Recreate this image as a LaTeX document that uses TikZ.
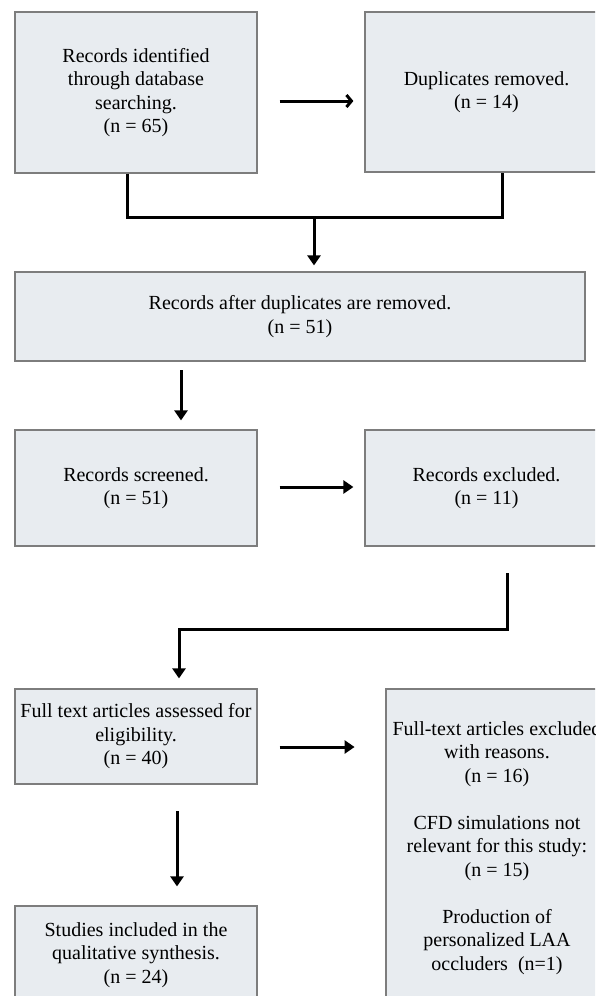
\documentclass[tikz,border=0pt]{standalone}
\usepackage{fontspec}
\setmainfont{Liberation Serif}
\usetikzlibrary{arrows.meta,calc}
\definecolor{boxfill}{RGB}{232,236,240}
\definecolor{boxline}{RGB}{125,125,125}
\begin{document}
\begin{tikzpicture}[x=1pt,y=-1pt,
  box/.style={draw=boxline,line width=1.2pt,fill=boxfill,align=center,inner sep=0pt,
    font=\fontsize{20}{23.5}\selectfont},
  low/.style={execute at begin node={\rule{0pt}{22pt}}},
  conn/.style={line width=3pt},
  arr/.style={conn,-{Triangle[length=10pt,width=13pt]}},
  barb/.style={conn,-{Straight Barb[length=5pt,width=12pt]}}]
\useasboundingbox (0,0) rectangle (595,996);
\clip (0,0) rectangle (595,996);

\node[box,low,minimum width=242pt,minimum height=161pt] (b1) at (136,92.5)
  {Records identified\\through database\\searching.\\(n = 65)};
\node[box,low,minimum width=243pt,minimum height=160pt] (b2) at (486.5,92)
  {Duplicates removed.\\(n = 14)};
\node[box,low,minimum width=570pt,minimum height=89pt] (b3) at (300,316.5)
  {Records after duplicates are removed.\\(n = 51)};
\node[box,low,minimum width=242pt,minimum height=116pt] (b4) at (136,488)
  {Records screened.\\(n = 51)};
\node[box,low,minimum width=243pt,minimum height=116pt] (b5) at (486.5,488)
  {Records excluded.\\(n = 11)};
\node[box,low,minimum width=242pt,minimum height=95pt] (b6) at (136,736.5)
  {Full text articles assessed for\\eligibility.\\(n = 40)};
\node[box,minimum width=222pt,minimum height=318pt] (b7) at (497,848)
  {Full-text articles excluded\\with reasons.\\(n = 16)\\[23.5pt]CFD simulations not\\relevant for this study:\\(n = 15)\\[23.5pt]Production of\\personalized LAA\\occluders~ (n=1)};
\node[box,minimum width=242pt,minimum height=98pt] (b8) at (136,955)
  {Studies included in the\\qualitative synthesis.\\(n = 24)};

% b1 -> b2
\draw[barb] ($(b1.east)+(22,8.5)$) -- ($(b2.west)+(-11,9)$);
% join of b1 and b2 into b3
\coordinate (j) at (314,217);
\draw[conn] ([xshift=-9pt]b1.south) |- (j) -| ([xshift=15.5pt]b2.south);
\draw[arr,shorten >=6pt] (j) -- (j |- b3.north);
% b3 -> b4
\coordinate (a3) at (181,370);
\draw[arr,shorten >=9pt] (a3) -- (a3 |- b4.north);
% b4 -> b5
\draw[arr] ($(b4.east)+(22,-1)$) -- ($(b5.west)+(-11,-1)$);
% b5 -> b6
\coordinate (c5) at (507,573);
\coordinate (c6) at (179,629);
\draw[arr,shorten >=10pt] (c5) |- (c6) -- (c6 |- b6.north);
% b6 -> b7
\draw[arr] ($(b6.east)+(22,10.5)$) -- ++(75,0);
% b6 -> b8
\coordinate (a6) at (177,811);
\draw[arr,shorten >=19pt] (a6) -- (a6 |- b8.north);
\end{tikzpicture}
\end{document}
